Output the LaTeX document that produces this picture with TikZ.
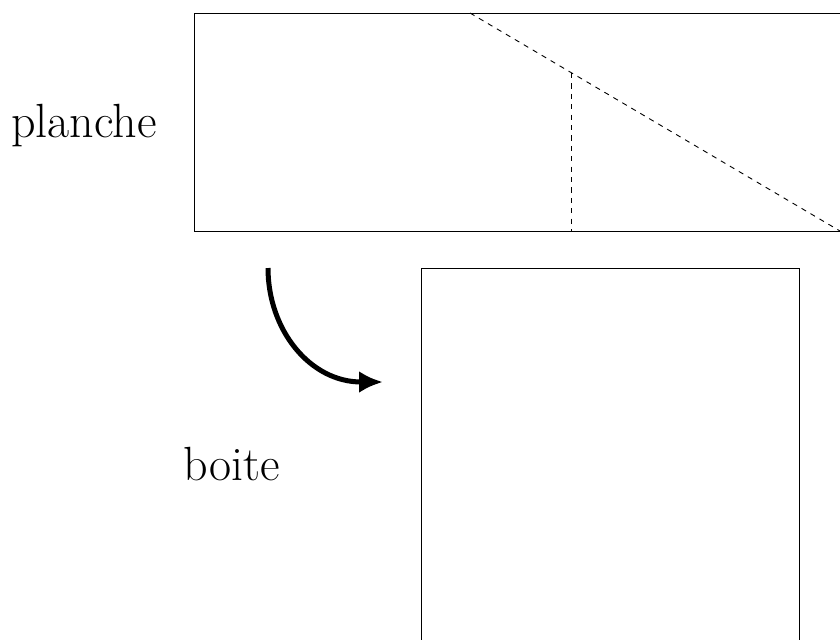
\documentclass[tikz,border=0pt]{standalone}
\usetikzlibrary{arrows.meta}
\begin{document}
\begin{tikzpicture}[x=0.5pt,y=-0.5pt,
  outline/.style={line width=0.45pt},
  fold/.style={line width=0.45pt,dash pattern=on 2.6pt off 2.6pt},
  label/.style={font=\fontsize{24}{28}\selectfont,inner sep=0pt},
  turn/.style={line width=2.5pt,-{Latex[length=12pt,width=11pt]}}]
  \useasboundingbox (0,0) rectangle (840,639);
  \clip (0,0) rectangle (840,639);
  % the board, with its fold lines
  \draw[outline] (194,13) rectangle (860,231);
  \coordinate (f1) at (470,13);
  \coordinate (f2) at (840,231);
  \coordinate (v1) at (571,73);
  \coordinate (v2) at (571,231);
  \draw[fold] (f1) -- (f2);
  \draw[fold] (v1) -- (v2);
  % the box
  \draw[outline] (421,660) -- (421,268) -- (799,268) -- (799,660);
  % labels
  \node[label] (planche) at (84,126) {planche};
  \node[label] (boite) at (232,464) {boite};
  % turning arrow
  \coordinate (a1) at (268,268);
  \coordinate (a2) at (383,382);
  \draw[turn] (a1) .. controls (268,330) and (310,382) .. (a2);
\end{tikzpicture}
\end{document}
